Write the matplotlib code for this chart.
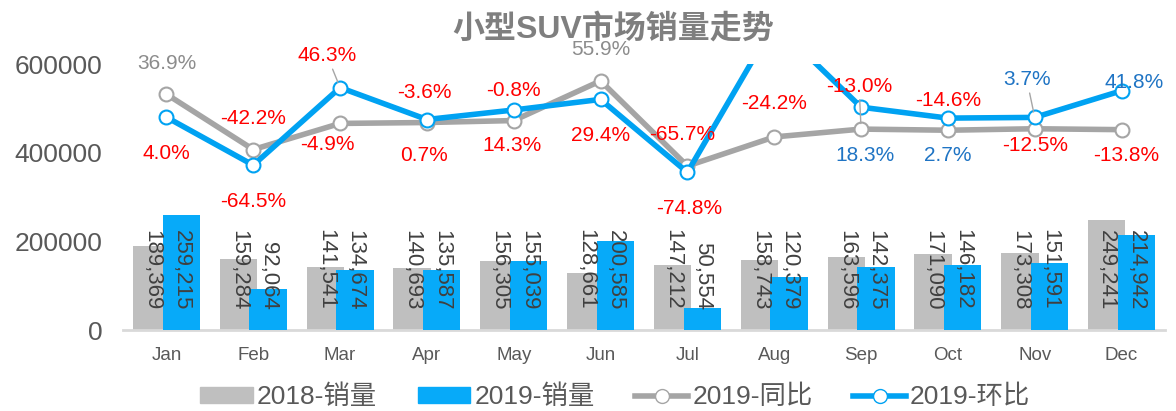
import matplotlib.pyplot as plt
from matplotlib.lines import Line2D
from matplotlib.patches import Patch
import numpy as np

plt.rcParams['font.family'] = ['Liberation Sans', 'Noto Sans CJK SC']

months = ['Jan', 'Feb', 'Mar', 'Apr', 'May', 'Jun', 'Jul', 'Aug', 'Sep', 'Oct', 'Nov', 'Dec']
sales_2018 = [189369, 159284, 141541, 140693, 156305, 128661, 147212, 158743, 163596, 171090, 173308, 249241]
sales_2019 = [259215, 92064, 134674, 135587, 155039, 200585, 50554, 120379, 142375, 146182, 151591, 214942]
# 2019 year-on-year and month-on-month change, %
yoy_2019 = [36.9, -42.2, -4.9, -3.6, -0.8, 55.9, -65.7, -24.2, -13.0, -14.6, -12.5, -13.8]
mom_2019 = [4.0, -64.5, 46.3, 0.7, 14.3, 29.4, -74.8, 138.1, 18.3, 2.7, 3.7, 41.8]

GRAY_TXT = '#8C8C8C'
RED = '#FF0000'
BLUE_TXT = '#1F74C4'
yoy_colors = [GRAY_TXT, RED, RED, RED, RED, GRAY_TXT, RED, RED, RED, RED, RED, RED]
mom_colors = [RED, RED, RED, RED, RED, RED, RED, None, BLUE_TXT, BLUE_TXT, BLUE_TXT, BLUE_TXT]
# label offsets from the point, in pixels (dx, dy)
yoy_off = [(0, 31), (0, 31), (-13, -21), (-3, 30), (0, 30), (0, 31), (-5, 31), (0, 33),
           (-2, 43), (0, 30), (0, -17), (5, -26)]
mom_off = [(0, -36), (0, -36), (-13, 32), (-3, -36), (-2, -36), (0, -36), (2, -36), None,
           (4, -48), (0, -37), (-8, 38), (13, 8)]
leader = {('mom', 2), ('yoy', 8), ('mom', 10)}

fig = plt.figure(figsize=(11.76, 4.11), dpi=100)
ax = fig.add_axes([123 / 1176, 1 - 330 / 411, 1042 / 1176, 266 / 411])
x = np.arange(len(months))
w = 0.43
ax.bar(x - 0.17, sales_2018, w, color='#BFBFBF', zorder=2)
ax.bar(x + 0.17, sales_2019, w, color='#07AAF9', zorder=3)

for i in range(len(months)):
    ax.text(x[i] - 0.17, 45000, format(sales_2018[i], ','), rotation=-90, ha='center', va='bottom',
            fontsize=16, color='#404040', zorder=5)
    ax.text(x[i] + 0.17, 45000, format(sales_2019[i], ','), rotation=-90, ha='center', va='bottom',
            fontsize=16, color='#404040', zorder=5)

ax.set_xlim(-0.5, 11.5)
ax.set_ylim(0, 600000)
ax.set_yticks([0, 200000, 400000, 600000])
ax.set_yticklabels(['0', '200000', '400000', '600000'])
ax.set_xticks(x)
ax.set_xticklabels(months)
ax.tick_params(axis='y', length=0, labelsize=19, labelcolor='#595959', pad=15)
ax.tick_params(axis='x', length=0, labelsize=13.5, labelcolor='#595959', pad=12)
for s in ['top', 'right', 'left']:
    ax.spines[s].set_visible(False)
ax.spines['bottom'].set_color('#D9D9D9')
ax.spines['bottom'].set_linewidth(2)

ax2 = ax.twinx()
ax2.set_ylim(-300, 80)
ax2.axis('off')
ax2.plot(x, yoy_2019, color='#A5A5A5', lw=4, marker='o', ms=10, mfc='white', mec='#A5A5A5', mew=1.5,
         zorder=3)
ax2.plot(x, mom_2019, color='#00A2F2', lw=4, marker='o', ms=10, mfc='white', mec='#00A2F2', mew=1.5,
         zorder=4)

for name, vals, cols, offs in [('yoy', yoy_2019, yoy_colors, yoy_off), ('mom', mom_2019, mom_colors, mom_off)]:
    for i in range(len(months)):
        if offs[i] is None:
            continue
        arrow = None
        if (name, i) in leader:
            arrow = dict(arrowstyle='-', color='#A6A6A6', lw=1, shrinkA=1, shrinkB=4)
        ax2.annotate(f'{vals[i]:.1f}%', (x[i], vals[i]), xytext=offs[i], textcoords='offset pixels',
                     ha='center', va='center', fontsize=15, color=cols[i], arrowprops=arrow,
                     annotation_clip=False, zorder=6)

fig.text(613 / 1176, 1 - 29 / 411, '小型SUV市场销量走势', ha='center', va='center', fontsize=23,
         fontweight='bold', color='#7F7F7F')

handles = [Patch(color='#BFBFBF'), Patch(color='#07AAF9'),
           Line2D([], [], color='#A5A5A5', lw=4, marker='o', ms=10, mfc='white', mec='#A5A5A5'),
           Line2D([], [], color='#00A2F2', lw=4, marker='o', ms=10, mfc='white', mec='#00A2F2')]
fig.legend(handles, ['2018-销量', '2019-销量', '2019-同比', '2019-环比'], loc='center',
           bbox_to_anchor=(615 / 1176, 1 - 397 / 411), ncol=4, frameon=False, fontsize=19,
           labelcolor='#595959', handlelength=2.0, handleheight=0.55, handletextpad=0.15,
           columnspacing=1.55)

fig.savefig('out.png', dpi=100)
